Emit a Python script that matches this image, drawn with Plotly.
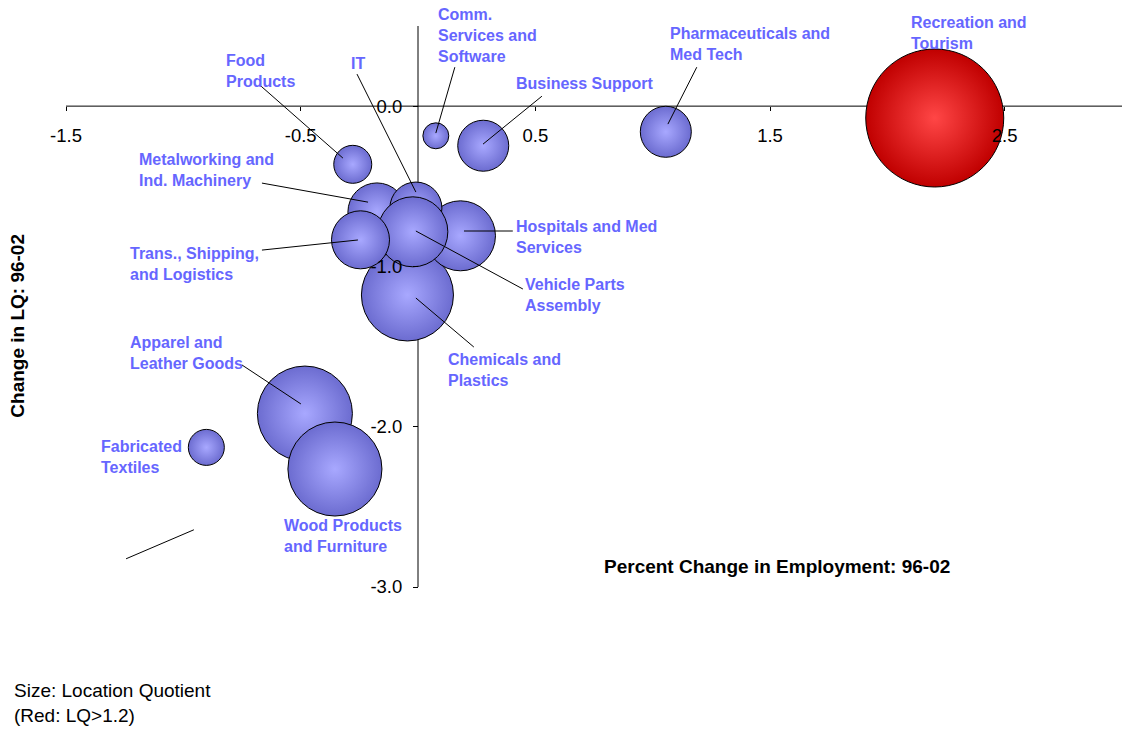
import plotly.graph_objects as go

# ---------------- data ----------------
clusters = ["Recreation and Tourism", "Pharmaceuticals and Med Tech", "Business Support",
            "Comm. Services and Software", "Food Products", "Chemicals and Plastics",
            "Hospitals and Med Services", "Metalworking and Ind. Machinery", "IT",
            "Vehicle Parts Assembly", "Trans., Shipping, and Logistics",
            "Apparel and Leather Goods", "Wood Products and Furniture", "Fabricated Textiles"]
emp_change = [2.202, 1.056, 0.278, 0.076, -0.278, -0.045, 0.181, -0.175, -0.009,
              -0.022, -0.245, -0.482, -0.354, -0.902]
lq_change = [-0.074, -0.160, -0.247, -0.185, -0.363, -1.178, -0.809, -0.660, -0.636,
             -0.784, -0.834, -1.918, -2.264, -2.129]
lq = [2.32, 0.317, 0.317, 0.082, 0.176, 1.032, 0.597, 0.41, 0.33,
      0.597, 0.41, 1.10, 1.077, 0.158]

label_text = ["Recreation and<br>Tourism", "Pharmaceuticals and<br>Med Tech", "Business Support",
              "Comm.<br>Services and<br>Software", "Food<br>Products", "Chemicals and<br>Plastics",
              "Hospitals and Med<br>Services", "Metalworking and<br>Ind. Machinery", "IT",
              "Vehicle Parts<br>Assembly", "Trans., Shipping,<br>and Logistics",
              "Apparel and<br>Leather Goods", "Wood Products<br>and Furniture", "Fabricated<br>Textiles"]
label_x = [2.098, 1.070, 0.413, 0.082, -0.823, 0.123, 0.413, -1.192, -0.290,
           0.453, -1.230, -1.232, -0.576, -1.355]
label_y = [0.455, 0.387, 0.143, 0.443, 0.221, -1.649, -0.817, -0.397, 0.268,
           -1.178, -0.985, -1.540, -2.679, -2.188]

# leader lines: (x0, y0, x1, y1)
leaders = [
    (-0.669, 0.125, -0.320, -0.324),   # Food
    (-0.260, 0.200, -0.009, -0.536),   # IT
    (0.157, 0.243, 0.076, -0.168),     # Comm
    (0.528, 0.062, 0.277, -0.237),     # Business
    (1.188, 0.243, 1.065, -0.112),     # Pharma
    (-0.665, -0.480, -0.213, -0.599),  # Metalworking
    (-0.665, -0.898, -0.256, -0.835),  # Trans
    (0.196, -0.779, 0.404, -0.779),    # Hospitals
    (-0.009, -0.779, 0.447, -1.141),   # Vehicle
    (-0.009, -1.197, 0.238, -1.503),   # Chemicals
    (-0.750, -1.615, -0.499, -1.858),  # Apparel
    (-1.244, -2.824, -0.955, -2.643),  # stray line
]

x_range = [-1.5, 3.0]
y_range = [-3.0, 0.5]
x_ticks = [-1.5, -0.5, 0.5, 1.5, 2.5]
x_tick_text = ["-1.5", "-0.5", "0.5", "1.5", "2.5"]
y_ticks = [0.0, -1.0, -2.0, -3.0]
y_tick_text = ["0.0", "-1.0", "-2.0", "-3.0"]
LQ_THRESHOLD = 1.2

x_title = "Percent Change in Employment: 96-02"
y_title = "Change in LQ: 96-02"
note = "Size: Location Quotient<br>(Red: LQ>1.2)"

# ---------------- styles ----------------
FONT = "Arial, 'Liberation Sans', Helvetica, sans-serif"
LABEL_COLOR = "#6666FF"
BLUE_EDGE, BLUE_CENTER = "#6C6CD0", "#A8A8FF"
RED_EDGE, RED_CENTER = "#C00000", "#FF4646"
MAX_BUBBLE_PX = 138

edge_colors = [RED_EDGE if v > LQ_THRESHOLD else BLUE_EDGE for v in lq]
center_colors = [RED_CENTER if v > LQ_THRESHOLD else BLUE_CENTER for v in lq]
sizeref = 2.0 * max(lq) / MAX_BUBBLE_PX ** 2

fig = go.Figure()
fig.add_trace(go.Scatter(
    x=emp_change, y=lq_change, mode="markers", text=clusters, hoverinfo="text",
    marker=dict(size=lq, sizemode="area", sizeref=sizeref,
                color=edge_colors,
                gradient=dict(type="radial", color=center_colors),
                line=dict(color="#000000", width=1), opacity=1),
))

shapes = [
    dict(type="line", xref="x", yref="y", x0=x_range[0], x1=x_range[1], y0=0, y1=0,
         line=dict(color="#000000", width=1), layer="below"),
    dict(type="line", xref="x", yref="y", x0=0, x1=0, y0=y_range[0], y1=y_range[1],
         line=dict(color="#000000", width=1), layer="below"),
]
for (a, b, c, d) in leaders:
    shapes.append(dict(type="line", xref="x", yref="y", x0=a, y0=b, x1=c, y1=d,
                       line=dict(color="#000000", width=1), layer="above"))

annotations = []
for t, lx, ly in zip(label_text, label_x, label_y):
    annotations.append(dict(x=lx, y=ly, xref="x", yref="y", text=t, showarrow=False,
                            xanchor="left", yanchor="middle", align="left", borderpad=0,
                            font=dict(family=FONT, size=16, color=LABEL_COLOR, weight="bold")))

annotations.append(dict(x=0.6733, y=0.0365, xref="paper", yref="paper", text=x_title,
                        showarrow=False, xanchor="center", yanchor="middle",
                        font=dict(family=FONT, size=19, color="#000000", weight="bold")))
annotations.append(dict(x=-0.0455, y=0.4657, xref="paper", yref="paper", text=y_title,
                        showarrow=False, xanchor="center", yanchor="middle", textangle=-90,
                        font=dict(family=FONT, size=19, color="#000000", weight="bold")))
annotations.append(dict(x=-0.0515, y=-0.2075, xref="paper", yref="paper", text=note,
                        showarrow=False, xanchor="left", yanchor="middle", align="left",
                        font=dict(family=FONT, size=19, color="#000000")))

fig.update_layout(
    width=1122, height=730,
    margin=dict(l=66, r=0, t=26, b=142.5),
    paper_bgcolor="white", plot_bgcolor="white",
    showlegend=False,
    font=dict(family=FONT, color="#000000"),
    xaxis=dict(range=x_range, showgrid=False, zeroline=False, showline=False,
               ticks="outside", ticklen=4, tickwidth=1, tickcolor="#000000",
               tickvals=x_ticks, ticktext=x_tick_text, ticklabelstandoff=9,
               tickfont=dict(family=FONT, size=18.5, color="#000000"),
               anchor="free", position=(0 - y_range[0]) / (y_range[1] - y_range[0])),
    yaxis=dict(range=y_range, showgrid=False, zeroline=False, showline=False,
               ticks="outside", ticklen=5, tickwidth=1, tickcolor="#000000",
               tickvals=y_ticks, ticktext=y_tick_text, ticklabelstandoff=7,
               tickfont=dict(family=FONT, size=18.5, color="#000000"),
               anchor="free", position=(0 - x_range[0]) / (x_range[1] - x_range[0])),
    shapes=shapes,
    annotations=annotations,
)

# remove the page's default body margin so the figure fills the window exactly
fig.write_html("out.html", config={"displayModeBar": False},
               post_script="document.body.style.margin='0';document.body.style.overflow='hidden';")
